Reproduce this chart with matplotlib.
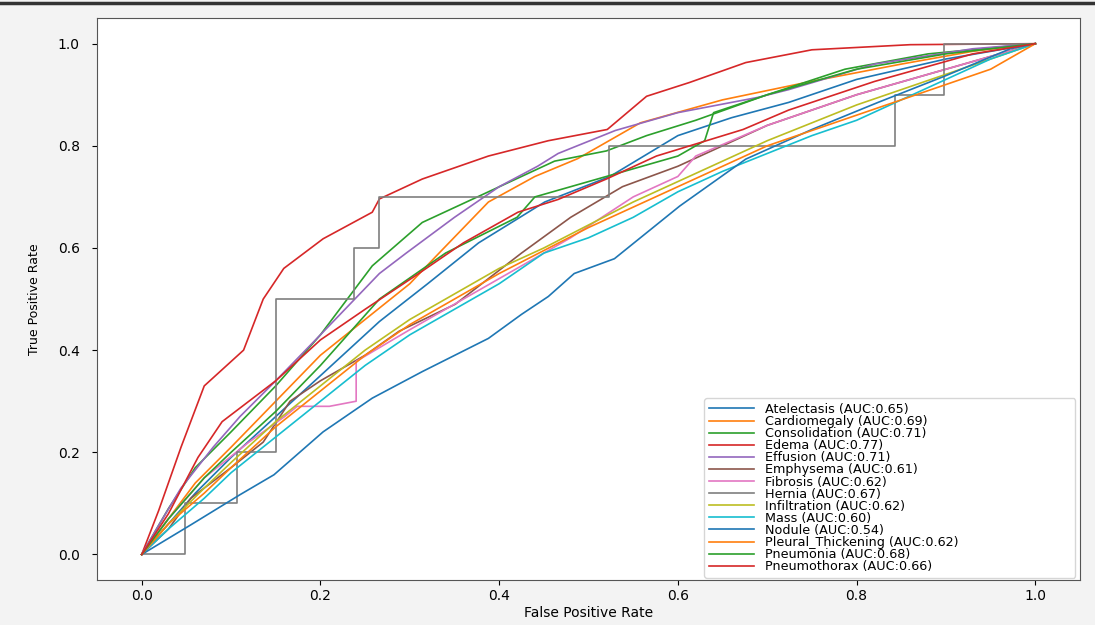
import matplotlib
matplotlib.use('Agg')
import matplotlib.pyplot as plt
from matplotlib.lines import Line2D

# Tên các lớp bệnh và AUC
labels = ['Atelectasis', 'Cardiomegaly', 'Consolidation', 'Edema', 'Effusion',
          'Emphysema', 'Fibrosis', 'Hernia', 'Infiltration', 'Mass', 'Nodule',
          'Pleural_Thickening', 'Pneumonia', 'Pneumothorax']
auc_values = [0.65, 0.69, 0.71, 0.77, 0.71, 0.61, 0.62, 0.67, 0.62, 0.60, 0.54, 0.62, 0.68, 0.66]

# Các điểm ROC
fpr_atelectasis = [0, 0.03, 0.06, 0.1, 0.15, 0.2, 0.266, 0.32, 0.377, 0.451, 0.524, 0.6, 0.66, 0.724, 0.8, 0.9, 1.0]
tpr_atelectasis = [0, 0.06, 0.12, 0.19, 0.27, 0.35, 0.456, 0.53, 0.61, 0.69, 0.74, 0.82, 0.855, 0.885, 0.93, 0.97, 1.0]

fpr_cardiomegaly = [0, 0.03, 0.06, 0.1, 0.15, 0.2, 0.25, 0.3, 0.33, 0.388, 0.44, 0.488, 0.558, 0.65, 0.746, 0.85, 0.93, 1.0]
tpr_cardiomegaly = [0, 0.07, 0.14, 0.21, 0.3, 0.39, 0.46, 0.53, 0.585, 0.69, 0.74, 0.775, 0.845, 0.89, 0.925, 0.96, 0.985, 1.0]

fpr_consolidation = [0, 0.03, 0.06, 0.1, 0.15, 0.2, 0.258, 0.314, 0.388, 0.462, 0.52, 0.565, 0.62, 0.7, 0.787, 0.88, 1.0]
tpr_consolidation = [0, 0.09, 0.17, 0.24, 0.33, 0.43, 0.565, 0.65, 0.71, 0.77, 0.79, 0.82, 0.85, 0.9, 0.95, 0.98, 1.0]

fpr_edema = [0, 0.019, 0.044, 0.07, 0.114, 0.136, 0.159, 0.203, 0.258, 0.266, 0.314, 0.388, 0.455, 0.521, 0.565, 0.613, 0.676, 0.75, 0.86, 1.0]
tpr_edema = [0, 0.086, 0.21, 0.33, 0.40, 0.50, 0.56, 0.618, 0.67, 0.696, 0.735, 0.78, 0.81, 0.832, 0.897, 0.924, 0.963, 0.988, 0.998, 1.0]

fpr_effusion = [0, 0.02, 0.044, 0.08, 0.11, 0.15, 0.2, 0.266, 0.296, 0.35, 0.4, 0.443, 0.466, 0.53, 0.6, 0.69, 0.724, 0.82, 0.93, 1.0]
tpr_effusion = [0, 0.06, 0.13, 0.21, 0.27, 0.34, 0.43, 0.55, 0.59, 0.66, 0.72, 0.76, 0.785, 0.83, 0.865, 0.895, 0.91, 0.96, 0.99, 1.0]

fpr_emphysema = [0, 0.03, 0.055, 0.1, 0.136, 0.166, 0.2, 0.25, 0.288, 0.351, 0.425, 0.48, 0.538, 0.6, 0.7, 0.8, 0.9, 1.0]
tpr_emphysema = [0, 0.05, 0.11, 0.17, 0.22, 0.3, 0.34, 0.39, 0.437, 0.49, 0.59, 0.66, 0.72, 0.76, 0.84, 0.9, 0.95, 1.0]

fpr_fibrosis = [0, 0.03, 0.07, 0.12, 0.16, 0.174, 0.21, 0.24, 0.24, 0.3, 0.36, 0.42, 0.48, 0.55, 0.6, 0.62, 0.7, 0.8, 0.9, 1.0]
tpr_fibrosis = [0, 0.07, 0.15, 0.22, 0.27, 0.29, 0.29, 0.3, 0.378, 0.44, 0.5, 0.56, 0.62, 0.7, 0.74, 0.78, 0.84, 0.9, 0.95, 1.0]

fpr_hernia = [0, 0.048, 0.048, 0.107, 0.107, 0.15, 0.15, 0.238, 0.238, 0.266, 0.266, 0.523, 0.523, 0.843, 0.843, 0.898, 0.898, 1.0]
tpr_hernia = [0, 0, 0.1, 0.1, 0.2, 0.2, 0.5, 0.5, 0.6, 0.6, 0.7, 0.7, 0.8, 0.8, 0.9, 0.9, 1.0, 1.0]

fpr_infiltration = [0, 0.03, 0.07, 0.1, 0.15, 0.2, 0.25, 0.3, 0.35, 0.4, 0.45, 0.5, 0.55, 0.6, 0.65, 0.7, 0.8, 0.9, 1.0]
tpr_infiltration = [0, 0.06, 0.13, 0.18, 0.26, 0.33, 0.4, 0.46, 0.51, 0.56, 0.6, 0.645, 0.69, 0.73, 0.77, 0.81, 0.88, 0.94, 1.0]

fpr_mass = [0, 0.03, 0.07, 0.1, 0.15, 0.2, 0.25, 0.3, 0.35, 0.4, 0.45, 0.5, 0.55, 0.6, 0.65, 0.7, 0.75, 0.8, 0.85, 0.9, 0.95, 1.0]
tpr_mass = [0, 0.05, 0.11, 0.16, 0.23, 0.3, 0.37, 0.43, 0.48, 0.53, 0.59, 0.62, 0.66, 0.71, 0.75, 0.785, 0.82, 0.85, 0.89, 0.93, 0.97, 1.0]

fpr_nodule = [0, 0.055, 0.11, 0.148, 0.203, 0.258, 0.314, 0.388, 0.425, 0.455, 0.484, 0.529, 0.602, 0.676, 0.75, 0.824, 0.898, 0.972, 1.0]
tpr_nodule = [0, 0.058, 0.117, 0.156, 0.24, 0.306, 0.358, 0.423, 0.47, 0.505, 0.55, 0.579, 0.682, 0.774, 0.832, 0.885, 0.936, 0.99, 1.0]

fpr_pleural = [0, 0.03, 0.07, 0.1, 0.15, 0.2, 0.25, 0.3, 0.35, 0.4, 0.45, 0.5, 0.55, 0.6, 0.65, 0.7, 0.8, 0.9, 0.95, 1.0]
tpr_pleural = [0, 0.06, 0.12, 0.17, 0.25, 0.32, 0.39, 0.45, 0.5, 0.55, 0.595, 0.64, 0.68, 0.72, 0.76, 0.8, 0.86, 0.92, 0.95, 1.0]

fpr_pneumonia = [0, 0.03, 0.07, 0.1, 0.15, 0.2, 0.266, 0.34, 0.42, 0.44, 0.52, 0.6, 0.63, 0.64, 0.7, 0.8, 0.9, 1.0]
tpr_pneumonia = [0, 0.07, 0.15, 0.2, 0.28, 0.37, 0.5, 0.59, 0.66, 0.7, 0.74, 0.78, 0.81, 0.865, 0.9, 0.95, 0.98, 1.0]

fpr_pneumothorax = [0, 0.03, 0.063, 0.09, 0.15, 0.2, 0.25, 0.31, 0.36, 0.421, 0.466, 0.52, 0.576, 0.673, 0.724, 0.82, 0.93, 1.0]
tpr_pneumothorax = [0, 0.08, 0.19, 0.26, 0.34, 0.42, 0.48, 0.55, 0.61, 0.67, 0.695, 0.735, 0.78, 0.832, 0.87, 0.926, 0.98, 1.0]

fpr_list = [fpr_atelectasis, fpr_cardiomegaly, fpr_consolidation, fpr_edema, fpr_effusion,
            fpr_emphysema, fpr_fibrosis, fpr_hernia, fpr_infiltration, fpr_mass, fpr_nodule,
            fpr_pleural, fpr_pneumonia, fpr_pneumothorax]
tpr_list = [tpr_atelectasis, tpr_cardiomegaly, tpr_consolidation, tpr_edema, tpr_effusion,
            tpr_emphysema, tpr_fibrosis, tpr_hernia, tpr_infiltration, tpr_mass, tpr_nodule,
            tpr_pleural, tpr_pneumonia, tpr_pneumothorax]

fig = plt.figure(figsize=(10.95, 6.25), dpi=100, facecolor='#f3f3f3')
ax = fig.add_axes([0.0886, 0.072, 0.8977, 0.899])

for i in range(len(labels)):
    ax.plot(fpr_list[i], tpr_list[i], color='C%d' % (i % 10), linewidth=1.2,
            label='%s (AUC:%.2f)' % (labels[i], auc_values[i]))

ax.set_xlabel('False Positive Rate', fontsize=10, labelpad=2)
ax.set_ylabel('True Positive Rate', fontsize=9, labelpad=12)
ax.tick_params(axis='x', labelsize=10, pad=3)
ax.tick_params(axis='y', labelsize=10, pad=9)
for s in ax.spines.values():
    s.set_color('#555555')

# Chú thích ở góc dưới bên phải
ax.legend(loc='lower left', bbox_to_anchor=(0.618, 0.004, 0.377, 0.31), mode='expand',
          fontsize=9.2, labelspacing=-0.07, handlelength=3.5, handletextpad=0.9,
          borderpad=0.35, borderaxespad=0.0)

# Đường tối ở mép trên
fig.add_artist(Line2D([0, 1], [0.995, 0.995], color='#333333', linewidth=2.5,
                      transform=fig.transFigure))

plt.savefig('out.png', dpi=100, facecolor=fig.get_facecolor())
